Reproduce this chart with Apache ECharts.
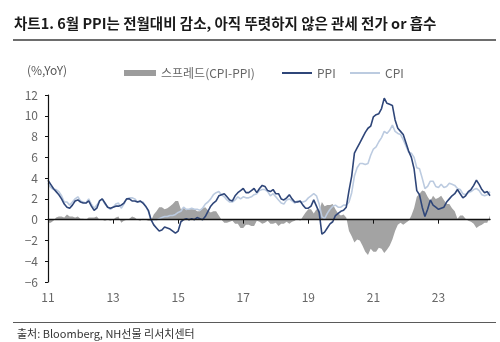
<!DOCTYPE html>
<html>
<head>
<meta charset="utf-8">
<script src="https://cdn.jsdelivr.net/npm/echarts@6/dist/echarts.min.js"></script>
<style>
  html, body { margin: 0; padding: 0; background: #fff; }
  #chart { width: 500px; height: 342px; }
</style>
</head>
<body>
<div id="chart"></div>
<script>
// Monthly YoY (%) from 2011-11 to 2025-06
const startYear = 2011, startMonth = 11, monthCount = 164;

const ppi = [
  3.8, 3.4,
  3.0, 2.7, 2.4, 2.0, 1.5, 1.2, 1.1, 1.4, 1.8, 1.9, 1.7, 1.6,
  1.6, 1.8, 1.3, 0.9, 1.1, 1.8, 2.0, 1.6, 1.2, 1.1, 1.2, 1.3,
  1.3, 1.4, 1.6, 2.0, 2.0, 1.8, 1.8, 1.7, 1.8, 1.6, 1.3, 0.9,
  0.0, -0.5, -0.8, -1.1, -1.0, -0.7, -0.8, -0.9, -1.1, -1.3, -1.1, -0.2,
  0.0, 0.1, 0.0, 0.1, 0.0, 0.2, 0.1, 0.0, 0.3, 0.8, 1.3, 1.6,
  1.8, 2.3, 2.4, 2.5, 2.2, 1.9, 1.8, 2.3, 2.6, 2.8, 3.0, 2.6,
  2.6, 2.8, 3.0, 2.6, 3.0, 3.3, 3.2, 2.8, 2.7, 2.9, 2.5, 2.5,
  2.0, 1.9, 2.1, 2.4, 2.0, 1.7, 1.7, 1.8, 1.4, 1.1, 1.1, 1.3,
  1.9, 1.3, 0.7, -1.4, -1.2, -0.8, -0.4, -0.2, 0.4, 0.6, 0.8, 0.9,
  1.2, 2.8, 4.2, 6.4, 6.9, 7.4, 7.9, 8.4, 8.8, 9.0, 9.9, 10.1,
  10.2, 10.7, 11.7, 11.2, 11.1, 11.0, 9.6, 8.8, 8.5, 8.2, 7.4, 6.6,
  6.0, 4.9, 2.8, 2.4, 1.2, 0.3, 1.0, 1.9, 1.4, 1.2, 1.0, 1.1,
  1.2, 1.7, 2.0, 2.3, 2.5, 2.9, 2.5, 2.1, 2.3, 2.7, 2.9, 3.3,
  3.8, 3.4, 2.9, 2.6, 2.7, 2.3
];

const cpi = [
  3.5, 3.1,
  2.9, 2.9, 2.7, 2.3, 1.7, 1.7, 1.4, 1.7, 2.0, 2.2, 1.8, 1.7,
  1.6, 2.0, 1.5, 1.1, 1.4, 1.8, 2.0, 1.5, 1.2, 1.0, 1.2, 1.5,
  1.6, 1.1, 1.5, 2.0, 2.1, 2.1, 2.0, 1.7, 1.7, 1.7, 1.3, 0.8,
  -0.1, 0.0, 0.0, 0.1, 0.2, 0.3, 0.3, 0.4, 0.4, 0.5, 0.7, 0.8,
  1.2, 1.0, 1.0, 1.1, 1.0, 1.0, 0.9, 1.1, 1.5, 1.7, 2.0, 2.4,
  2.6, 2.7, 2.4, 2.2, 1.9, 1.7, 1.7, 1.9, 2.2, 2.0, 2.2, 2.1,
  2.1, 2.2, 2.4, 2.5, 2.8, 2.9, 2.9, 2.7, 2.3, 2.5, 2.2, 1.9,
  1.6, 1.5, 1.9, 2.0, 1.8, 1.6, 1.8, 1.7, 1.7, 1.8, 2.1, 2.3,
  2.5, 2.3, 1.5, 0.3, 0.1, 0.6, 1.0, 1.3, 1.4, 1.2, 1.2, 1.4,
  1.4, 1.7, 2.6, 4.2, 5.0, 5.4, 5.4, 5.3, 5.4, 6.2, 6.8, 7.0,
  7.5, 7.9, 8.5, 8.3, 8.6, 9.1, 8.5, 8.3, 8.2, 7.7, 7.1, 6.5,
  6.4, 6.0, 5.0, 4.9, 4.0, 3.0, 3.2, 3.7, 3.7, 3.2, 3.1, 3.4,
  3.1, 3.2, 3.5, 3.4, 3.3, 3.0, 2.9, 2.5, 2.4, 2.6, 2.7, 2.9,
  3.0, 2.8, 2.4, 2.3, 2.4, 2.7
];

// Month categories "YYYY-MM"
const months = [];
for (let k = 0; k < monthCount; k++) {
  const m0 = startMonth - 1 + k;
  const y = startYear + Math.floor(m0 / 12);
  const m = (m0 % 12) + 1;
  months.push(y + '-' + (m < 10 ? '0' + m : m));
}

// Spread = CPI - PPI
const spread = cpi.map((c, i) => Math.round((c - ppi[i]) * 10) / 10);

const seriesNames = { spread: '스프레드(CPI-PPI)', ppi: 'PPI', cpi: 'CPI' };
const colors = { spread: '#a3a3a3', ppi: '#2f4679', cpi: '#bccbe0' };
const font = '"Noto Sans CJK KR", "Noto Sans", sans-serif';

const chart = echarts.init(document.getElementById('chart'), null, { renderer: 'canvas' });

const legendBase = {
  orient: 'horizontal',
  top: 62,
  selectedMode: false,
  icon: 'rect',
  itemGap: 0,
  textStyle: { color: '#666', fontSize: 12, fontFamily: font, padding: [0, 0, 0, 0] }
};

chart.setOption({
  animation: false,
  backgroundColor: '#fff',
  grid: { left: 48, right: 10, top: 95, bottom: 60, containLabel: false },
  legend: [
    Object.assign({}, legendBase, { left: 119, itemWidth: 32, itemHeight: 6, data: [seriesNames.spread] }),
    Object.assign({}, legendBase, { left: 277, itemWidth: 30, itemHeight: 2, data: [seriesNames.ppi] }),
    Object.assign({}, legendBase, { left: 345, itemWidth: 30, itemHeight: 2, data: [seriesNames.cpi] })
  ],
  xAxis: [
    {
      type: 'category',
      data: months,
      boundaryGap: false,
      axisLine: { show: false, onZero: false },
      axisTick: { show: false },
      splitLine: { show: false },
      axisLabel: {
        interval: 23,
        margin: 9,
        color: '#666',
        fontSize: 12,
        fontFamily: font,
        formatter: v => v.slice(2, 4)
      }
    },
    {
      type: 'category',
      data: months,
      boundaryGap: false,
      position: 'bottom',
      z: 10,
      axisLine: { show: true, onZero: true, lineStyle: { color: '#111', width: 1.4 } },
      axisTick: { show: true, interval: 23, length: 4, lineStyle: { color: '#111', width: 1 } },
      axisLabel: { show: false },
      splitLine: { show: false }
    }
  ],
  yAxis: {
    type: 'value',
    min: -6,
    max: 12,
    interval: 2,
    z: 10,
    axisLine: { show: true, onZero: false, lineStyle: { color: '#111', width: 1.2 } },
    axisTick: { show: true, length: 3, lineStyle: { color: '#111' } },
    splitLine: { show: false },
    axisLabel: {
      margin: 10,
      color: '#666',
      fontSize: 12,
      fontFamily: font,
      formatter: v => String(v).replace('-', '\u2212')
    }
  },
  series: [
    {
      name: seriesNames.spread,
      type: 'line',
      data: spread,
      symbol: 'none',
      z: 1,
      lineStyle: { width: 0 },
      itemStyle: { color: '#9c9c9c' },
      areaStyle: { color: colors.spread, opacity: 1, origin: 0 }
    },
    {
      name: seriesNames.cpi,
      type: 'line',
      data: cpi,
      symbol: 'none',
      z: 3,
      itemStyle: { color: colors.cpi },
      lineStyle: { color: colors.cpi, width: 1.6 }
    },
    {
      name: seriesNames.ppi,
      type: 'line',
      data: ppi,
      symbol: 'none',
      z: 4,
      itemStyle: { color: colors.ppi },
      lineStyle: { color: colors.ppi, width: 1.6 }
    }
  ],
  graphic: [
    {
      type: 'text', left: 14, top: 16,
      style: { text: '차트1. 6월 PPI는 전월대비 감소, 아직 뚜렷하지 않은 관세 전가 or 흡수',
               fill: '#1a1a1a', font: 'bold 14.5px ' + font }
    },
    {
      type: 'line', shape: { x1: 13, y1: 40, x2: 496, y2: 40 },
      style: { stroke: '#3c3c3c', lineWidth: 1.5 }
    },
    {
      type: 'text', left: 27, top: 64,
      style: { text: '(%,YoY)', fill: '#595959', font: '12px ' + font }
    },
    {
      type: 'line', shape: { x1: 13, y1: 322.5, x2: 496, y2: 322.5 },
      style: { stroke: '#5a5a5a', lineWidth: 1.2 }
    },
    {
      type: 'text', left: 17, top: 328,
      style: { text: '출처: Bloomberg, NH선물 리서치센터', fill: '#333', font: '11px ' + font }
    }
  ]
});
</script>
</body>
</html>
